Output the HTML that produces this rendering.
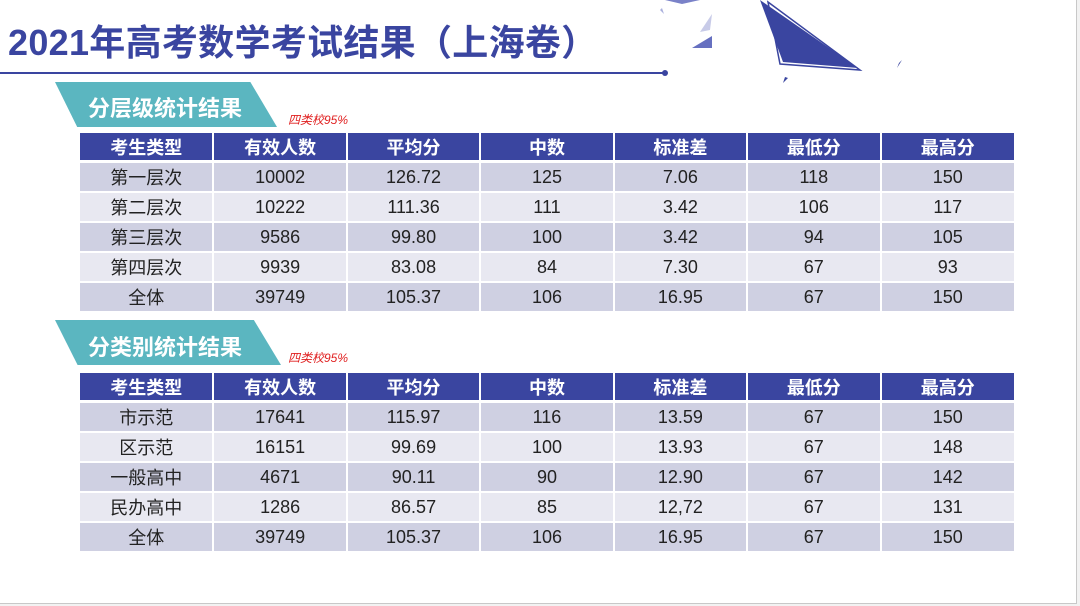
<!DOCTYPE html>
<html><head><meta charset="utf-8"><style>
body{margin:0;width:1080px;height:606px;background:#f2f2f2;overflow:hidden;font-family:"Liberation Sans","Noto Sans CJK SC",sans-serif}
#pg{position:absolute;left:0;top:0;width:1076px;height:603px;background:#fff;border-right:1px solid #c8c8c8;border-bottom:1px solid #c8c8c8}
.t{position:absolute;left:8px;top:14px;font-size:36px;font-weight:bold;color:#3a45a0;letter-spacing:0.3px;white-space:nowrap}
.line{position:absolute;left:0;top:72px;width:665px;height:2px;background:#3a45a0}
.dot{position:absolute;left:662px;top:70px;width:6px;height:6px;border-radius:50%;background:#3a45a0}
.ban{position:absolute;height:45px;background:#5bb6c0;clip-path:polygon(0 0,88% 0,100% 100%,10% 100%)}
.bt{position:absolute;color:#fff;font-weight:bold;font-size:22px;white-space:nowrap}
.red{position:absolute;color:#e02020;font-size:12px;font-style:italic;white-space:nowrap}
table{position:absolute;left:80px;width:934px;border-collapse:collapse;table-layout:fixed}
td{height:28px;padding:0;text-align:center;font-size:18px;color:#222;border:2px solid #fff;border-top:0;border-bottom:2px solid #fff}
tr.h td{background:#3a45a0;color:#fff;font-weight:bold;font-size:18px;height:27px;border-bottom:3px solid #fff}
tr.a td{background:#cfd0e2}
tr.b td{background:#e8e8f1}
td:first-child{border-left:0}td:last-child{border-right:0}
</style></head><body><div id="pg">
<div class="t">2021年高考数学考试结果（上海卷）</div>
<div class="line"></div><div class="dot"></div>
<svg style="position:absolute;left:600px;top:0" width="320" height="90">
<polygon points="160,0 258,68 183,62" fill="#3a45a0"/>
<polygon points="168,2 260,70 180,64" fill="none" stroke="#3a45a0" stroke-width="1.5"/>
<polygon points="65,0 100,0 82,4" fill="#7a82c8"/>
<polygon points="80,16 88,12 76,18" fill="#7a82c8"/>
<polygon points="100,32 112,14 110,30" fill="#c8cbe8"/>
<polygon points="92,48 112,36 112,48" fill="#6670c0"/>
<polygon points="299,63 297,68 302,60" fill="#3a45a0"/>
<polygon points="183,83 188,78 185,77" fill="#3a45a0"/>
<polygon points="60,10 64,14 62,8" fill="#aab0dd"/>
</svg>
<div class="ban" style="left:55px;top:82px;width:222px"></div>
<div class="bt" style="left:88px;top:91px">分层级统计结果</div>
<div class="red" style="left:288px;top:111px">四类校95%</div>
<table style="top:133px"><tr class="h"><td>考生类型</td><td>有效人数</td><td>平均分</td><td>中数</td><td>标准差</td><td>最低分</td><td>最高分</td></tr>
<tr class="a"><td>第一层次</td><td>10002</td><td>126.72</td><td>125</td><td>7.06</td><td>118</td><td>150</td></tr>
<tr class="b"><td>第二层次</td><td>10222</td><td>111.36</td><td>111</td><td>3.42</td><td>106</td><td>117</td></tr>
<tr class="a"><td>第三层次</td><td>9586</td><td>99.80</td><td>100</td><td>3.42</td><td>94</td><td>105</td></tr>
<tr class="b"><td>第四层次</td><td>9939</td><td>83.08</td><td>84</td><td>7.30</td><td>67</td><td>93</td></tr>
<tr class="a"><td>全体</td><td>39749</td><td>105.37</td><td>106</td><td>16.95</td><td>67</td><td>150</td></tr></table>
<div class="ban" style="left:55px;top:320px;width:226px"></div>
<div class="bt" style="left:88px;top:330px">分类别统计结果</div>
<div class="red" style="left:288px;top:349px">四类校95%</div>
<table style="top:373px"><tr class="h"><td>考生类型</td><td>有效人数</td><td>平均分</td><td>中数</td><td>标准差</td><td>最低分</td><td>最高分</td></tr>
<tr class="a"><td>市示范</td><td>17641</td><td>115.97</td><td>116</td><td>13.59</td><td>67</td><td>150</td></tr>
<tr class="b"><td>区示范</td><td>16151</td><td>99.69</td><td>100</td><td>13.93</td><td>67</td><td>148</td></tr>
<tr class="a"><td>一般高中</td><td>4671</td><td>90.11</td><td>90</td><td>12.90</td><td>67</td><td>142</td></tr>
<tr class="b"><td>民办高中</td><td>1286</td><td>86.57</td><td>85</td><td>12,72</td><td>67</td><td>131</td></tr>
<tr class="a"><td>全体</td><td>39749</td><td>105.37</td><td>106</td><td>16.95</td><td>67</td><td>150</td></tr></table>
</div></body></html>
